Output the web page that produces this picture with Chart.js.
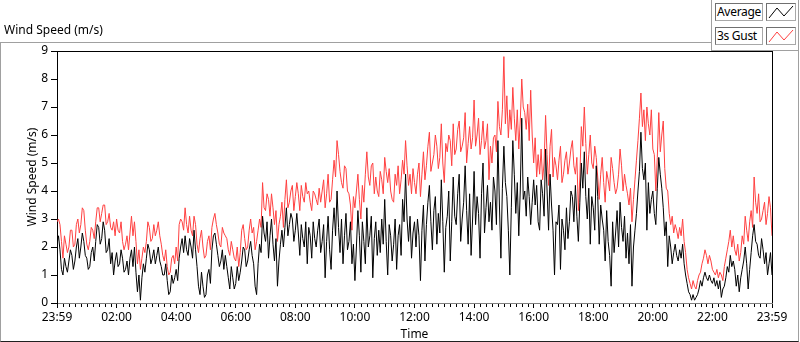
<!DOCTYPE html>
<html>
<head>
<meta charset="utf-8">
<script src="https://cdn.jsdelivr.net/npm/chart.js@4/dist/chart.umd.min.js"></script>
<style>
  body { margin: 0; background: #fff; font-family: "Noto Sans", sans-serif; color: #000; }
  #wrap { position: relative; width: 800px; height: 342px; overflow: hidden; }
  #chart { position: absolute; left: 0; top: 0; }
  #frame { position: absolute; left: 0; top: 42px; width: 797px; height: 298px;
           border-top: 1px solid #a0a0a0; border-left: 1px solid #a0a0a0;
           border-right: 1px solid #a0a0a0; border-bottom: 1px solid #202020; }
  #title { position: absolute; left: 4px; top: 23px; font-size: 12px; line-height: 14px; }
  #legendPanel { position: absolute; left: 711px; top: -1px; width: 86px; height: 51px; background: #fff;
                 border-left: 1px solid #a0a0a0; border-right: 1px solid #a0a0a0; border-bottom: 1px solid #a0a0a0; }
  .lg-name, .lg-icon { position: absolute; height: 16px; background: #fff;
                       border: 1px solid #a8a8a8; border-top-color: #707070; border-left-color: #707070; }
  .lg-name { left: 715px; width: 45px; font-size: 12px; letter-spacing: -0.3px; line-height: 16px; padding-left: 1px; white-space: nowrap; overflow: hidden; }
  .lg-icon { left: 766px; width: 28px; }
  .lg-icon svg { position: absolute; left: 0; top: 0; }
</style>
</head>
<body>
<div id="wrap">
  <canvas id="chart" width="800" height="342"></canvas>
  <div id="frame"></div>
  <div id="legendPanel"></div>
  <div id="title">Wind Speed (m/s)</div>
</div>
<script>
// pas de l'échantillonnage (minutes depuis 23:59)
const stepMin = 3;

// vitesse moyenne (m/s)
const avgSpeed = [
  2.1,2.4,1.9,1.2,1.0,1.6,1.3,1.1,1.5,1.9,1.7,1.2,1.5,2.0,2.3,1.6,2.0,2.5,2.2,1.7,
  1.6,1.2,1.3,1.8,2.0,1.5,2.2,2.8,2.7,2.1,2.3,2.9,2.6,1.8,1.9,2.3,1.4,1.8,1.0,1.5,
  1.8,1.3,1.4,1.9,1.6,1.1,1.2,1.5,1.0,1.6,1.9,1.3,2.0,1.1,0.4,1.0,0.1,0.9,1.4,1.1,
  1.6,2.1,1.9,1.4,1.6,1.9,1.4,1.7,2.0,1.5,1.3,1.0,1.0,1.4,0.8,0.3,0.4,1.0,0.7,0.9,
  1.2,0.8,1.6,2.0,2.3,1.8,2.4,1.9,1.7,2.3,2.0,1.6,2.6,1.9,1.3,0.6,0.3,1.1,0.6,0.2,
  0.3,1.0,1.2,0.7,1.9,2.4,2.5,2.1,1.7,1.3,1.5,1.9,1.2,1.7,1.3,0.9,0.5,1.3,0.9,0.5,
  0.7,1.3,0.8,1.1,1.5,2.0,1.9,1.3,1.5,1.9,2.2,1.7,1.4,0.6,0.3,1.4,2.1,1.8,3.1,2.5,
  2.2,2.9,1.6,2.4,3.0,2.1,1.5,2.3,0.6,1.5,2.1,2.6,2.0,2.7,3.4,2.4,2.8,3.2,3.0,2.2,
  2.6,3.2,2.5,1.7,2.8,2.3,2.0,2.9,1.4,2.7,2.4,1.6,2.9,2.3,2.0,2.6,3.0,1.8,2.2,2.8,
  0.9,2.2,3.1,1.9,1.2,2.6,3.4,2.4,4.0,2.7,1.8,3.0,1.4,2.4,3.2,1.9,2.2,2.9,1.4,2.1,
  0.8,2.0,3.3,2.4,1.1,2.9,2.2,1.4,3.4,2.0,2.4,3.1,0.9,2.3,2.9,1.7,2.6,1.8,3.0,2.1,
  3.7,2.2,1.0,2.8,2.4,1.5,2.1,3.0,1.2,2.4,2.8,1.7,3.7,2.9,4.6,3.0,2.2,3.1,1.6,2.5,
  2.9,2.0,3.0,2.4,0.8,2.6,3.5,1.5,2.8,3.6,4.2,2.9,1.9,3.3,3.8,2.1,3.2,2.5,4.4,2.9,
  1.1,2.7,3.1,4.0,1.5,2.9,4.5,3.1,2.8,3.9,4.6,2.2,3.0,3.6,4.9,3.3,2.1,3.9,1.7,3.0,
  4.7,2.8,3.8,3.2,1.6,3.9,5.0,2.5,3.4,4.2,2.9,3.6,2.6,4.5,4.0,2.8,5.8,3.5,1.6,4.1,
  5.6,4.3,3.8,2.6,1.0,3.4,5.8,4.6,3.2,4.3,2.4,4.0,6.6,3.7,4.0,3.1,4.5,3.8,2.8,3.6,
  4.4,3.5,4.2,2.9,2.6,4.4,3.9,3.1,5.5,4.0,2.6,4.6,3.5,2.6,1.0,2.9,2.8,3.5,1.2,3.0,
  2.6,1.9,3.4,2.3,2.9,4.0,3.8,2.9,4.2,3.1,2.2,3.6,5.0,4.1,5.4,3.8,3.0,4.1,2.1,3.8,
  3.4,2.6,4.9,3.8,2.1,3.5,3.0,2.6,1.5,3.3,2.2,1.7,0.6,2.9,1.8,2.5,3.3,2.0,3.6,2.7,
  2.2,3.1,1.6,2.5,1.4,2.8,0.6,2.0,2.6,3.2,4.0,4.7,6.1,4.8,4.4,5.0,2.6,4.3,3.2,3.7,
  4.0,3.2,2.8,4.1,5.2,4.6,4.1,3.4,2.4,2.9,1.3,2.4,2.0,1.4,1.8,2.1,1.7,1.5,1.9,1.6,
  2.1,1.4,1.0,0.7,0.4,0.3,0.1,0.3,0.1,0.2,0.3,0.5,0.8,0.6,0.9,1.1,0.9,0.8,1.0,0.8,
  0.7,0.9,0.6,0.8,0.5,0.8,0.2,0.5,0.6,0.9,1.3,1.1,1.7,1.3,1.5,1.2,0.6,1.0,0.4,0.9,
  1.2,1.5,2.0,1.4,0.5,1.2,1.8,2.4,2.8,2.2,2.1,1.7,1.6,2.3,1.9,1.4,1.8,1.0,1.4,1.8,
  1.0
];

// rafale 3 s (m/s)
const gustSpeed = [
  2.9,3.0,2.8,2.2,1.6,2.4,2.1,1.8,2.0,2.6,2.6,2.0,2.1,2.8,3.0,2.5,2.8,3.4,3.3,2.6,
  2.1,1.9,2.2,2.7,2.6,2.3,2.9,3.4,3.4,2.9,3.2,3.5,3.5,2.8,2.9,3.2,2.7,2.6,2.9,2.4,
  3.0,2.6,2.5,2.9,2.2,1.9,2.1,2.4,1.9,2.5,3.1,2.4,2.9,2.2,1.4,1.9,1.2,1.6,2.0,1.8,
  2.2,2.9,2.7,2.2,2.3,2.8,2.4,2.6,2.9,2.4,2.1,1.7,1.5,1.9,1.3,1.0,1.1,1.6,1.7,1.4,
  2.0,1.5,2.8,3.0,2.9,2.6,3.4,2.8,2.5,3.1,2.6,2.4,3.1,2.8,2.1,1.8,2.3,2.6,2.0,1.6,
  1.7,2.2,2.4,1.9,2.7,3.0,3.2,2.8,2.5,2.1,2.0,2.7,2.5,2.4,2.3,1.9,1.7,2.2,1.9,1.6,
  1.5,2.0,1.3,1.8,2.6,2.8,2.3,1.9,2.0,2.6,3.0,2.5,2.7,1.9,2.2,2.6,3.0,2.7,4.3,3.4,
  3.3,3.9,3.7,3.1,3.9,3.4,2.8,3.3,2.2,2.8,3.1,3.6,2.7,3.7,4.4,3.4,3.6,4.0,4.2,3.3,
  3.8,4.3,3.9,3.3,4.2,3.8,3.6,4.3,3.9,4.0,3.6,3.3,4.0,3.9,3.7,3.5,4.1,3.6,4.0,4.4,
  3.4,3.9,4.6,3.6,3.7,4.4,5.1,4.5,5.8,5.3,4.7,4.3,4.1,4.9,4.8,4.0,3.9,3.5,2.6,3.8,
  3.4,4.0,4.6,3.7,3.0,4.2,3.6,4.6,5.4,4.5,4.2,4.9,5.0,3.9,4.5,4.0,3.8,4.7,4.4,3.9,
  5.2,4.7,4.3,4.8,4.0,3.7,3.6,4.6,4.2,4.9,3.9,4.4,5.1,4.6,5.8,4.9,4.2,4.6,3.9,4.8,
  4.3,3.9,4.6,5.0,3.8,4.6,5.4,4.4,4.9,5.6,6.1,4.7,5.0,5.3,6.0,5.6,4.8,5.2,6.4,5.0,
  4.3,5.7,5.4,6.0,5.8,4.9,6.4,5.3,5.5,6.2,6.5,5.4,5.6,5.9,6.8,5.0,5.7,6.3,5.5,5.9,
  7.25,5.6,6.0,6.6,5.3,5.8,6.5,5.5,5.8,6.4,4.4,5.6,5.0,5.9,6.0,5.4,7.2,6.3,6.0,6.9,
  8.8,6.4,7.4,5.9,6.9,6.2,7.7,6.6,5.8,6.9,5.5,6.5,8.0,7.0,6.8,6.2,7.1,5.8,7.6,6.0,
  5.0,5.9,4.5,5.3,4.6,5.5,4.4,5.0,6.7,5.3,4.2,5.6,6.2,4.5,5.2,4.9,4.4,5.1,5.6,4.3,
  4.6,5.1,5.4,4.6,5.0,5.5,5.8,4.9,4.6,5.2,3.3,4.5,6.3,5.6,7.0,5.7,4.6,5.3,6.0,5.0,
  4.8,5.6,5.2,4.5,3.7,4.6,5.2,4.3,3.6,4.7,4.4,4.0,5.2,4.8,4.3,3.9,4.1,4.6,5.5,4.9,
  4.0,4.6,4.2,3.9,3.5,4.1,2.9,3.7,4.4,5.1,5.8,6.6,7.5,6.3,6.9,5.8,7.0,6.4,6.0,6.9,
  5.5,5.3,4.0,5.2,6.8,5.4,6.0,6.5,4.8,4.1,4.0,3.2,2.8,3.1,2.5,2.8,2.6,2.3,2.7,2.4,
  3.0,2.2,1.8,1.2,0.9,0.7,0.5,0.8,0.6,0.5,0.8,1.0,1.1,1.4,1.6,1.9,1.7,1.4,1.7,1.5,
  1.2,1.1,1.0,1.2,0.9,1.1,1.0,0.8,1.3,1.6,1.9,2.2,2.6,2.0,2.4,1.9,1.7,2.1,1.5,1.8,
  2.4,2.1,3.1,2.6,2.2,2.9,3.3,2.7,4.5,3.6,3.2,3.9,2.9,3.0,3.3,3.6,2.8,3.2,3.8,3.4,
  2.4
];

// axe des temps
const tickMinutes = [0,120,240,360,480,600,720,840,960,1080,1200,1320,1440];
const tickLabels = ['23:59','02:00','04:00','06:00','08:00','10:00','12:00','14:00','16:00','18:00','20:00','22:00','23:59'];
const minorStep = 12;
const yTicks = [0,1,2,3,4,5,6,7,8,9];

const seriesNames = ['Average', '3s Gust'];
const seriesColors = ['#000000', '#ff4040'];

const times = avgSpeed.map((v, i) => i * stepMin);
const toPoints = arr => arr.map((v, i) => ({ x: times[i], y: v }));

const font = { family: '"Noto Sans", sans-serif', size: 12 };

// petits traits de graduation + cadre haut/droite de la zone de tracé
const plotDecor = {
  id: 'plotDecor',
  afterDraw(chart) {
    const { ctx, chartArea: a, scales: { x } } = chart;
    ctx.save();
    ctx.strokeStyle = '#000';
    ctx.lineWidth = 1;
    ctx.beginPath();
    for (let m = 0; m <= 1440; m += minorStep) {
      if (tickMinutes.includes(m)) continue;
      const px = Math.round(x.getPixelForValue(m)) + 0.5;
      ctx.moveTo(px, a.bottom + 1);
      ctx.lineTo(px, a.bottom + 4);
    }
    ctx.moveTo(Math.round(a.left), Math.round(a.top) + 0.5);
    ctx.lineTo(Math.round(a.right) + 1, Math.round(a.top) + 0.5);
    ctx.moveTo(Math.round(a.right) + 0.5, Math.round(a.top));
    ctx.lineTo(Math.round(a.right) + 0.5, Math.round(a.bottom));
    ctx.stroke();
    ctx.restore();
  }
};

const chart = new Chart(document.getElementById('chart'), {
  type: 'line',
  data: {
    datasets: [
      { label: seriesNames[0], data: toPoints(avgSpeed), borderColor: seriesColors[0] },
      { label: seriesNames[1], data: toPoints(gustSpeed), borderColor: seriesColors[1] }
    ]
  },
  options: {
    responsive: false,
    animation: false,
    events: [],
    elements: {
      line: { borderWidth: 1, tension: 0 },
      point: { radius: 0 }
    },
    layout: { padding: { left: 0, top: 51, right: 28, bottom: 0 } },
    plugins: { legend: { display: false }, tooltip: { enabled: false } },
    scales: {
      x: {
        type: 'linear', min: 0, max: 1440,
        afterBuildTicks: s => { s.ticks = tickMinutes.map(v => ({ value: v })); },
        afterFit: s => { s.height = 39; },
        ticks: { autoSkip: false, maxRotation: 0, padding: 2, color: '#000', font,
                 callback: (v, i) => tickLabels[i] },
        grid: { drawOnChartArea: false, tickLength: 5, tickColor: '#000' },
        border: { color: '#808080', width: 1 },
        title: { display: true, text: 'Time', color: '#000', font, padding: { top: 0, bottom: 0 } }
      },
      y: {
        min: 0, max: 9,
        afterBuildTicks: s => { s.ticks = yTicks.map(v => ({ value: v })); },
        afterFit: s => { s.width = 57; },
        ticks: { padding: 3, color: '#000', font },
        grid: { drawOnChartArea: false, tickLength: 6, tickColor: '#000' },
        border: { color: '#000', width: 1 },
        title: { display: true, text: 'Wind Speed (m/s)', color: '#000', font, padding: { top: 25, bottom: 0 } }
      }
    }
  },
  plugins: [plotDecor]
});

// légende en haut à droite
const wrap = document.getElementById('wrap');
chart.data.datasets.forEach((ds, i) => {
  const top = 3 + i * 24;
  const name = document.createElement('div');
  name.className = 'lg-name';
  name.style.top = top + 'px';
  name.textContent = ds.label;
  wrap.appendChild(name);
  const icon = document.createElement('div');
  icon.className = 'lg-icon';
  icon.style.top = top + 'px';
  icon.innerHTML = `<svg width="28" height="16"><polyline points="2,14 10,4 17,12 26,2" fill="none" stroke="${ds.borderColor}" stroke-width="1"/></svg>`;
  wrap.appendChild(icon);
});
</script>
</body>
</html>
